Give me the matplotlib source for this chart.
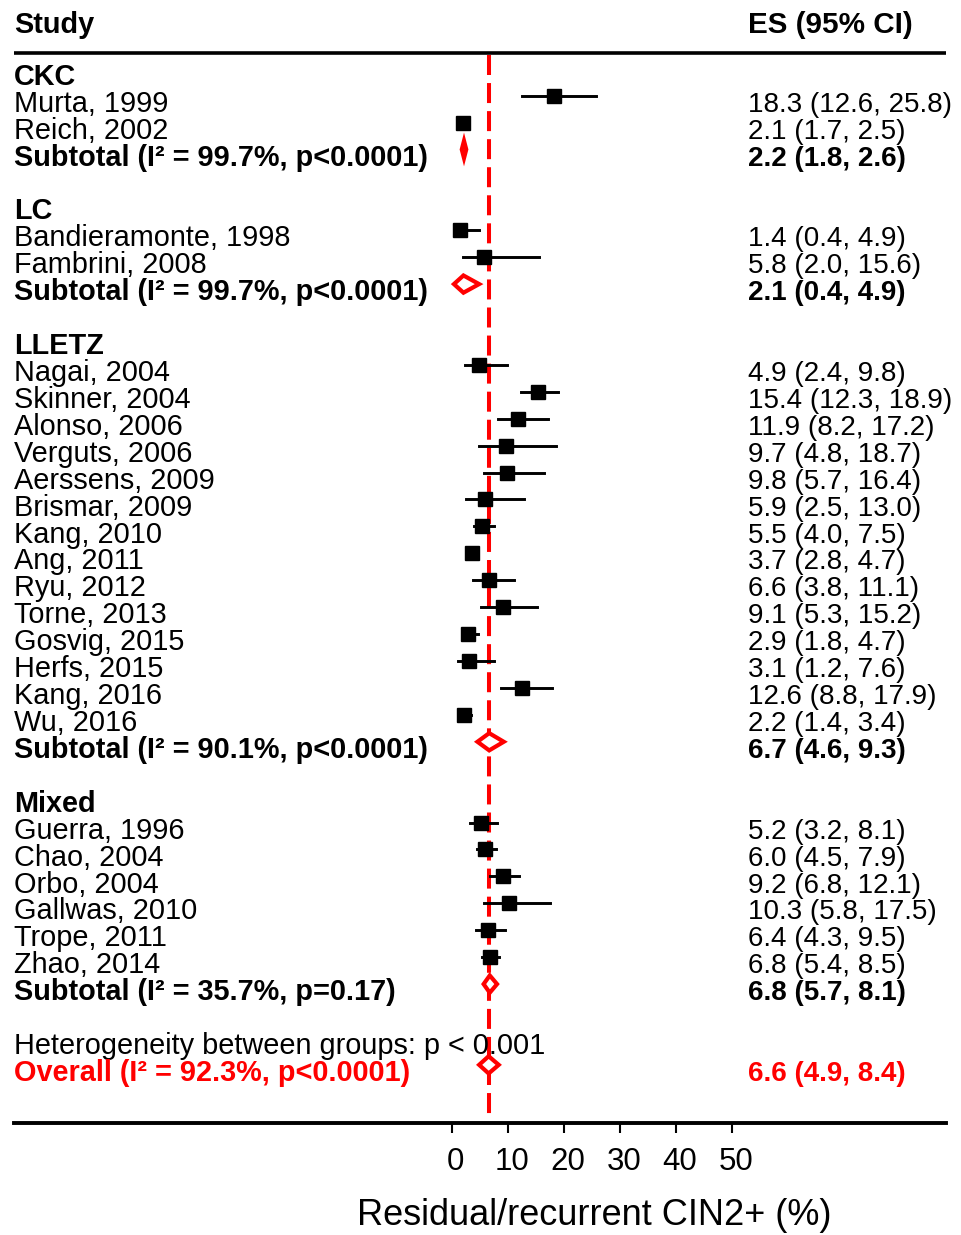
import numpy as np
import matplotlib.pyplot as plt
import matplotlib.transforms as mtransforms

plt.rcParams['font.family'] = ['Liberation Sans', 'DejaVu Sans']
plt.rcParams['lines.scale_dashes'] = False

# studies per treatment group: name, ES, lower, upper
groups = ['CKC', 'LC', 'LLETZ', 'Mixed']

ckc_names = ['Murta, 1999', 'Reich, 2002']
ckc_es = [18.3, 2.1]
ckc_lo = [12.6, 1.7]
ckc_hi = [25.8, 2.5]

lc_names = ['Bandieramonte, 1998', 'Fambrini, 2008']
lc_es = [1.4, 5.8]
lc_lo = [0.4, 2.0]
lc_hi = [4.9, 15.6]

lletz_names = ['Nagai, 2004', 'Skinner, 2004', 'Alonso, 2006', 'Verguts, 2006',
               'Aerssens, 2009', 'Brismar, 2009', 'Kang, 2010', 'Ang, 2011',
               'Ryu, 2012', 'Torne, 2013', 'Gosvig, 2015', 'Herfs, 2015',
               'Kang, 2016', 'Wu, 2016']
lletz_es = [4.9, 15.4, 11.9, 9.7, 9.8, 5.9, 5.5, 3.7, 6.6, 9.1, 2.9, 3.1, 12.6, 2.2]
lletz_lo = [2.4, 12.3, 8.2, 4.8, 5.7, 2.5, 4.0, 2.8, 3.8, 5.3, 1.8, 1.2, 8.8, 1.4]
lletz_hi = [9.8, 18.9, 17.2, 18.7, 16.4, 13.0, 7.5, 4.7, 11.1, 15.2, 4.7, 7.6, 17.9, 3.4]

mixed_names = ['Guerra, 1996', 'Chao, 2004', 'Orbo, 2004', 'Gallwas, 2010',
               'Trope, 2011', 'Zhao, 2014']
mixed_es = [5.2, 6.0, 9.2, 10.3, 6.4, 6.8]
mixed_lo = [3.2, 4.5, 6.8, 5.8, 4.3, 5.4]
mixed_hi = [8.1, 7.9, 12.1, 17.5, 9.5, 8.5]

# pooled estimates per group
sub_i2 = ['99.7%', '99.7%', '90.1%', '35.7%']
sub_p = ['p<0.0001', 'p<0.0001', 'p<0.0001', 'p=0.17']
sub_es = [2.2, 2.1, 6.7, 6.8]
sub_lo = [1.8, 0.4, 4.6, 5.7]
sub_hi = [2.6, 4.9, 9.3, 8.1]

overall_es, overall_lo, overall_hi = 6.6, 4.9, 8.4
overall_label = 'Overall (I\u00b2 = 92.3%, p<0.0001)'
het_label = 'Heterogeneity between groups: p < 0.001'

studies = [
    (ckc_names, ckc_es, ckc_lo, ckc_hi),
    (lc_names, lc_es, lc_lo, lc_hi),
    (lletz_names, lletz_es, lletz_lo, lletz_hi),
    (mixed_names, mixed_es, mixed_lo, mixed_hi),
]

fig = plt.figure(figsize=(9.61, 12.35), dpi=100)
ax = fig.add_axes([0, 0, 1, 1])
ax.set_xlim(-80.66, 90.95)
ax.set_ylim(43.32, -2.552)
for s in ['top', 'left', 'right']:
    ax.spines[s].set_visible(False)
ax.set_yticks([])

tr = ax.get_yaxis_transform()
fs = 20.8
fs_es = 20
x_left = 14 / 961
x_es = 748 / 961
dy = 0.6  # text baseline below the marker row
red = '#ff0000'


def ci_text(es, lo, hi):
    return f'{es:.1f} ({lo:.1f}, {hi:.1f})'


def diamond(y, es, lo, hi, h=0.32):
    xs = [lo, es, hi, es, lo]
    ys = [y, y - h, y, y + h, y]
    ax.fill(xs, ys, facecolor='white', edgecolor=red, lw=3, zorder=4)


row = 0
for g, (names, es, lo, hi) in enumerate(studies):
    ax.text(x_left, row + dy, groups[g], transform=tr, fontsize=fs,
            fontweight='bold', va='baseline')
    row += 1
    for n, e, l, h in zip(names, es, lo, hi):
        ax.plot([l, h], [row, row], color='black', lw=2.1, zorder=3)
        ax.plot(e, row, marker='s', ms=10, color='black', zorder=3)
        ax.text(x_left, row + dy, n, transform=tr, fontsize=fs, va='baseline')
        ax.text(x_es, row + dy, ci_text(e, l, h), transform=tr, fontsize=fs_es,
                va='baseline')
        row += 1
    diamond(row, sub_es[g], sub_lo[g], sub_hi[g])
    ax.text(x_left, row + dy, f'Subtotal (I\u00b2 = {sub_i2[g]}, {sub_p[g]})',
            transform=tr, fontsize=fs, fontweight='bold', va='baseline')
    ax.text(x_es, row + dy, ci_text(sub_es[g], sub_lo[g], sub_hi[g]),
            transform=tr, fontsize=fs_es, fontweight='bold', va='baseline')
    row += 2

ax.text(x_left, row + dy, het_label, transform=tr, fontsize=fs, va='baseline')
row += 1
diamond(row, overall_es, overall_lo, overall_hi)
ax.text(x_left, row + dy, overall_label, transform=tr, fontsize=fs,
        fontweight='bold', color=red, va='baseline')
ax.text(x_es, row + dy, ci_text(overall_es, overall_lo, overall_hi),
        transform=tr, fontsize=fs_es, fontweight='bold', color=red, va='baseline')

# overall reference line
ax.plot([overall_es, overall_es], [-0.51, 38.98], color=red, lw=2.9,
        dashes=(14.4, 5.8), zorder=2)

# header
ax.text(x_left, -1.326, 'Study', transform=tr, fontsize=fs, fontweight='bold',
        va='baseline')
ax.text(x_es, -1.326, 'ES (95% CI)', transform=tr, fontsize=fs + 0.5,
        fontweight='bold', va='baseline')
ax.plot([x_left, 946 / 961], [-0.58, -0.58], transform=tr, color='black',
        lw=2.6, solid_capstyle='butt')

# x axis
ax.spines['bottom'].set_position(('data', 39.16))
ax.spines['bottom'].set_bounds(-78.16, 88.27)
ax.spines['bottom'].set_linewidth(2.8)
ax.set_xticks([0, 10, 20, 30, 40, 50])
ax.tick_params(axis='x', length=7.2, width=1.5, labelsize=22.5, pad=10)
shift = mtransforms.ScaledTranslation(4 / 100, 0, fig.dpi_scale_trans)
for lbl in ax.get_xticklabels():
    lbl.set_transform(lbl.get_transform() + shift)
ax.text(25.5, 42.95, 'Residual/recurrent CIN2+ (%)', fontsize=26,
        ha='center', va='baseline')

fig.savefig('out.png', dpi=100)
